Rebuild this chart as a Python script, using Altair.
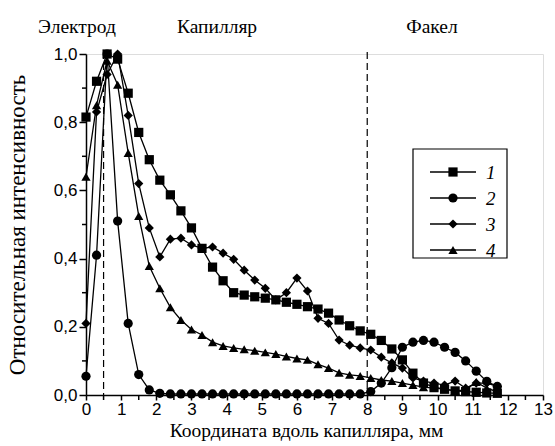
import altair as alt
import pandas as pd

# ---------------- data ----------------
x_mm = [0.0, 0.3, 0.6, 0.9, 1.2, 1.5, 1.8, 2.1, 2.4, 2.7, 3.0, 3.3, 3.6, 3.9,
        4.2, 4.5, 4.8, 5.1, 5.4, 5.7, 6.0, 6.3, 6.6, 6.9, 7.2, 7.5, 7.8, 8.1,
        8.4, 8.7, 9.0, 9.3, 9.6, 9.9, 10.2, 10.5, 10.8, 11.1, 11.4, 11.7]

s1 = [0.815, 0.92, 1.0, 0.985, 0.885, 0.77, 0.69, 0.63, 0.587, 0.54, 0.49, 0.43,
      0.375, 0.335, 0.30, 0.293, 0.288, 0.284, 0.279, 0.272, 0.266, 0.259, 0.252,
      0.24, 0.22, 0.203, 0.188, 0.178, 0.16, 0.135, 0.103, 0.064, 0.035, 0.023,
      0.017, 0.012, 0.01, 0.008, 0.006, 0.005]

s2 = [0.055, 0.41, 1.0, 0.51, 0.21, 0.06, 0.015, 0.005, 0.003, 0.003, 0.003,
      0.003, 0.003, 0.003, 0.003, 0.003, 0.003, 0.003, 0.003, 0.003, 0.003,
      0.003, 0.003, 0.003, 0.003, 0.003, 0.003, 0.01, 0.035, 0.08, 0.14, 0.155,
      0.16, 0.155, 0.14, 0.125, 0.10, 0.07, 0.04, 0.025]

s3 = [0.21, 0.83, 0.94, 1.0, 0.82, 0.62, 0.49, 0.405, 0.457, 0.46, 0.44, 0.43,
      0.434, 0.416, 0.398, 0.366, 0.337, 0.313, 0.279, 0.30, 0.343, 0.305, 0.225,
      0.21, 0.161, 0.146, 0.138, 0.132, 0.111, 0.094, 0.079, 0.05, 0.041, 0.035,
      0.029, 0.041, 0.02, 0.035, 0.035, 0.025]

s4 = [0.64, 0.85, 0.98, 0.91, 0.71, 0.525, 0.378, 0.313, 0.257, 0.22, 0.192,
      0.176, 0.155, 0.144, 0.138, 0.134, 0.13, 0.125, 0.12, 0.113, 0.107, 0.103,
      0.09, 0.079, 0.065, 0.059, 0.056, 0.05, 0.044, 0.041, 0.035, 0.029, 0.023,
      0.02, 0.017, 0.012, 0.015, 0.038, 0.02, 0.009]

labels = ["1", "2", "3", "4"]
shapes = ["square", "circle", "diamond", "triangle-up"]
boundaries = [0.5, 8.0]
regions = ["Электрод", "Капилляр", "Факел"]

x_major = [0, 1, 2, 3, 4, 5, 6, 7, 8, 9, 10, 11, 12, 13]
x_minor = [0.5, 1.5, 2.5, 3.5, 4.5, 5.5, 6.5, 7.5, 8.5, 9.5, 10.5, 11.5, 12.5]
y_major = [0.0, 0.2, 0.4, 0.6, 0.8, 1.0]
y_minor = [0.1, 0.3, 0.5, 0.7, 0.9]

rows = []
for lab, ys in zip(labels, [s1, s2, s3, s4]):
    for xv, yv in zip(x_mm, ys):
        rows.append({"series": lab, "x": xv, "y": yv})
df = pd.DataFrame(rows)

# ---------------- layout ----------------
W, H = 457, 341
SERIF = "Liberation Serif"
SANS = "Liberation Sans"

xscale = alt.Scale(domain=[0, 13], nice=False, zero=False)
yscale = alt.Scale(domain=[0, 1], nice=False)

xaxis = alt.Axis(
    values=x_major, format="d",
    tickSize=5, tickWidth=1.5, tickColor="black",
    domainWidth=1.5, domainColor="black",
    labelFont=SANS, labelFontSize=17, labelColor="black", labelPadding=1,
    labelFlush=False, labelOverlap=False, labelSeparation=0, labelBound=False,
    title="Координата вдоль капилляра, мм",
    titleFont=SERIF, titleFontSize=19.5, titleFontWeight="normal",
    titleColor="black", titlePadding=4, titleX=220, grid=False,
)
yaxis = alt.Axis(
    values=y_major,
    labelExpr="replace(format(datum.value, '.1f'), '.', ',')",
    tickSize=7, tickWidth=1.5, tickColor="black",
    domainWidth=1.5, domainColor="black",
    labelFont=SANS, labelFontSize=17, labelColor="black", labelPadding=2,
    labelFlush=False, labelOverlap=False,
    title="Относительная интенсивность",
    titleFont=SERIF, titleFontSize=23, titleFontWeight="normal",
    titleColor="black", titlePadding=24, grid=False,
)

X = alt.X("x:Q", scale=xscale, axis=xaxis)
Y = alt.Y("y:Q", scale=yscale, axis=yaxis)

base = alt.Chart(df)

lines = base.mark_line(color="black", strokeWidth=1.3).encode(
    x=X, y=Y, detail="series:N",
)

points = base.mark_point(filled=True, color="black", opacity=1, size=85).encode(
    x=X, y=Y,
    shape=alt.Shape("series:N", scale=alt.Scale(domain=labels, range=shapes), legend=None),
)

dash = alt.Chart(pd.DataFrame({"x": boundaries})).mark_rule(
    color="black", strokeDash=[7, 4], strokeWidth=1.2
).encode(x=X, y=alt.value(-2), y2=alt.value(H))

# minor ticks
xminor = alt.Chart(pd.DataFrame({"x": x_minor})).mark_rule(
    color="black", strokeWidth=1.5
).encode(x=X, y=alt.value(H), y2=alt.value(H + 5))

yminor = alt.Chart(pd.DataFrame({"y": y_minor})).mark_rule(
    color="black", strokeWidth=1.5
).encode(y=Y, x=alt.value(0), x2=alt.value(-4))

# region labels above the plot
region_layers = []
for name, px in zip(regions, [-9, 131, 346]):
    region_layers.append(alt.Chart(pd.DataFrame({"name": [name]})).mark_text(
        font=SERIF, fontSize=19.5, color="black", baseline="alphabetic", align="center"
    ).encode(x=alt.value(px), y=alt.value(-21), text="name:N"))

# legend box
one = pd.DataFrame({"a": [0]})
box = alt.Chart(one).mark_rect(fill="white", stroke="black", strokeWidth=1.2).encode(
    x=alt.value(327), x2=alt.value(421), y=alt.value(95), y2=alt.value(204)
)

leg_layers = []
for i, (lab, shp) in enumerate(zip(labels, shapes)):
    yy = 118 + 26 * i
    ldf = pd.DataFrame({"series": [lab]})
    leg_layers.append(alt.Chart(ldf).mark_rule(color="black", strokeWidth=1.3).encode(
        x=alt.value(344), x2=alt.value(390), y=alt.value(yy)))
    leg_layers.append(alt.Chart(ldf).mark_point(filled=True, color="black", opacity=1,
                                                 size=85, shape=shp).encode(
        x=alt.value(367), y=alt.value(yy)))
    leg_layers.append(alt.Chart(ldf).mark_text(font=SERIF, fontStyle="italic", fontSize=19,
                                                color="black", align="left",
                                                baseline="middle").encode(
        x=alt.value(400), y=alt.value(yy + 1), text="series:N"))

chart = alt.layer(lines, points, dash, xminor, yminor, *region_layers, box, *leg_layers).properties(
    width=W, height=H,
    padding={"left": 86, "top": 54, "right": 12, "bottom": 51},
    autosize=alt.AutoSizeParams(type="none"),
).configure_view(stroke=None).configure(background="white").configure_axis(
    labelOverlap=False
)

chart.save("out.html", embed_options={"renderer": "svg", "actions": False})
